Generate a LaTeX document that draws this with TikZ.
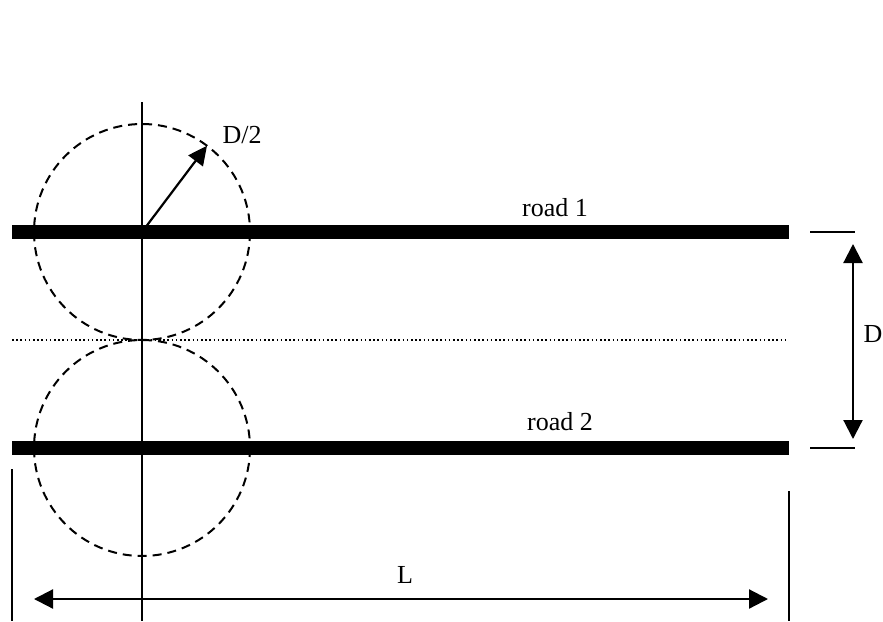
\documentclass[tikz,border=0pt]{standalone}
\usepackage{fontspec}
\setmainfont{Liberation Serif}
\usetikzlibrary{arrows.meta,calc}
\begin{document}
\begin{tikzpicture}[x=1pt,y=-1pt,
  road/.style={line width=14.5pt},
  thin/.style={line width=2.2pt},
  zone/.style={line width=2pt, dash pattern=on 9pt off 6pt},
  dimarrow/.style={line width=2.2pt, {Triangle[length=19pt,width=19pt]}-{Triangle[length=19pt,width=19pt]}},
  radarrow/.style={line width=2.2pt, -{Triangle[length=19pt,width=18pt]}},
  lbl/.style={font=\fontsize{26}{30}\selectfont, inner sep=0pt, anchor=base}]
\useasboundingbox (0,0) rectangle (883,621);
% roads
\coordinate (r1a) at (12,232); \coordinate (r1b) at (789,232);
\coordinate (r2a) at (12,448); \coordinate (r2b) at (789,448);
\draw[road] (r1a) -- (r1b);
\draw[road] (r2a) -- (r2b);
% midline
\coordinate (ma) at (12,340); \coordinate (mb) at (787,340);
\draw[line width=1.4pt, dash pattern=on 1.6pt off 2.6pt] (ma) -- (mb);
% axis
\coordinate (c1) at (142,232); \coordinate (c2) at (142,448);
\coordinate (axt) at (142,102); \coordinate (axb) at (142,621);
\draw[thin] (axt) -- (axb);
% circles
\draw[zone] (c1) circle[radius=108];
\draw[zone] (c2) circle[radius=108];
% radius arrow
\coordinate (rt) at ($(c1)+(-53:108)$);
\draw[radarrow] (c1) -- (rt);
\node[lbl] (dhalf) at (242,143) {D/2};
% road labels
\node[lbl] (l1) at (555,216) {road 1};
\node[lbl] (l2) at (560,430) {road 2};
% D dimension
\coordinate (t1a) at (810,232); \coordinate (t1b) at (855,232);
\coordinate (t2a) at (810,448); \coordinate (t2b) at (855,448);
\draw[thin] (t1a) -- (t1b);
\draw[thin] (t2a) -- (t2b);
\coordinate (da) at (853,244); \coordinate (db) at (853,439);
\draw[dimarrow] (da) -- (db);
\node[lbl] (dl) at (873,342) {D};
% L dimension
\coordinate (la) at (12,469); \coordinate (lb) at (12,621);
\coordinate (ra) at (789,491); \coordinate (rb) at (789,621);
\draw[thin] (la) -- (lb);
\draw[thin] (ra) -- (rb);
\coordinate (ha) at (34,599); \coordinate (hb) at (768,599);
\draw[dimarrow] (ha) -- (hb);
\node[lbl] (ll) at (405,583) {L};
\end{tikzpicture}
\end{document}
